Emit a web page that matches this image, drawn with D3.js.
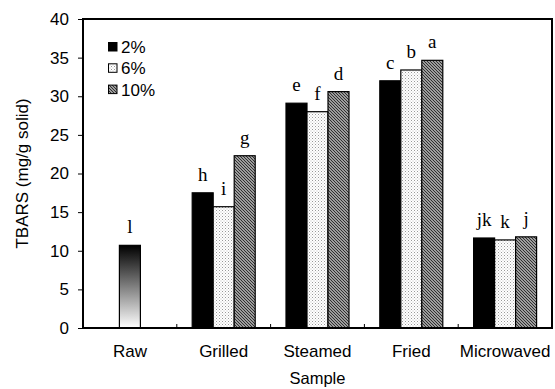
<!DOCTYPE html>
<html><head><meta charset="utf-8">
<script src="https://cdn.jsdelivr.net/npm/d3@7"></script>
<style>body{margin:0;background:#fff}svg{display:block}</style>
</head><body>
<svg id="c" width="555" height="389"></svg>
<script>
const categories = ["Raw","Grilled","Steamed","Fried","Microwaved"];
const seriesNames = ["2%","6%","10%"];
const rawValue = 10.7;
const rawLetter = "l";
const v2  = [null, 17.5, 29.1, 32.0, 11.65];
const v6  = [null, 15.7, 28.0, 33.4, 11.4];
const v10 = [null, 22.3, 30.6, 34.65, 11.8];
const letters2  = [null, "h", "e", "c", "jk"];
const letters6  = [null, "i", "f", "b", "k"];
const letters10 = [null, "g", "d", "a", "j"];
const yTicks = [0,5,10,15,20,25,30,35,40];

const svg = d3.select("#c");
const m = {l:83, r:552, t:19, b:328};
const x = d3.scaleBand().domain(categories).range([m.l, m.r]).paddingInner(0).paddingOuter(0);
const y = d3.scaleLinear().domain([0,40]).range([m.b, m.t]);
const barW = 21;
const sans = "Liberation Sans, Arial, sans-serif";
const serif = "Liberation Serif, Times New Roman, serif";

const defs = svg.append("defs");
const grad = defs.append("linearGradient").attr("id","rawGrad").attr("x1",0).attr("y1",0).attr("x2",0).attr("y2",1);
grad.append("stop").attr("offset","0%").attr("stop-color","#000");
grad.append("stop").attr("offset","100%").attr("stop-color","#fff");

const dots = defs.append("pattern").attr("id","dots").attr("patternUnits","userSpaceOnUse").attr("width",3).attr("height",3);
dots.append("rect").attr("width",3).attr("height",3).attr("fill","#fff");
dots.append("rect").attr("x",0).attr("y",0).attr("width",1).attr("height",1).attr("fill","#999");
dots.append("rect").attr("x",1.5).attr("y",1.5).attr("width",1).attr("height",1).attr("fill","#bbb");

const hatch = defs.append("pattern").attr("id","hatch").attr("patternUnits","userSpaceOnUse").attr("width",3).attr("height",3);
hatch.append("rect").attr("width",3).attr("height",3).attr("fill","#d0d0d0");
hatch.append("path").attr("d","M-1,-1 L4,4 M-1,2 L1,4 M2,-1 L4,1").attr("stroke","#2a2a2a").attr("stroke-width",1.2);

const fills = ["#000","url(#dots)","url(#hatch)"];
const allVals = [v2, v6, v10];
const allLetters = [letters2, letters6, letters10];

const bars = [];
categories.forEach((c,i) => {
  if (i === 0) return;
  for (let s=0; s<3; s++) {
    bars.push({cat:c, s, v:allVals[s][i], l:allLetters[s][i]});
  }
});

const g = svg.append("g");
g.append("rect")
  .attr("x", x("Raw") + x.bandwidth()/2 - barW/2)
  .attr("y", y(rawValue))
  .attr("width", barW)
  .attr("height", y(0) - y(rawValue))
  .attr("fill","url(#rawGrad)").attr("stroke","#000").attr("stroke-width",1.2);
g.append("text")
  .attr("x", x("Raw") + x.bandwidth()/2)
  .attr("y", y(rawValue) - 12)
  .attr("text-anchor","middle")
  .attr("font-family",serif).attr("font-size",19)
  .text(rawLetter);

g.selectAll("rect.bar").data(bars).enter().append("rect").attr("class","bar")
  .attr("x", d => x(d.cat) + x.bandwidth()/2 - 1.5*barW + d.s*barW)
  .attr("y", d => y(d.v))
  .attr("width", barW)
  .attr("height", d => y(0) - y(d.v))
  .attr("fill", d => fills[d.s])
  .attr("stroke","#000").attr("stroke-width",1.2);

g.selectAll("text.lab").data(bars).enter().append("text").attr("class","lab")
  .attr("x", d => x(d.cat) + x.bandwidth()/2 - barW + d.s*barW)
  .attr("y", d => y(d.v) - 12)
  .attr("text-anchor","middle")
  .attr("font-family",serif).attr("font-size",19)
  .text(d => d.l);

svg.append("rect").attr("x",m.l).attr("y",m.t).attr("width",m.r-m.l).attr("height",m.b-m.t)
  .attr("fill","none").attr("stroke","#000").attr("stroke-width",2);

const yAxis = svg.append("g").attr("transform",`translate(${m.l},0)`)
  .call(d3.axisLeft(y).tickValues(yTicks).tickSize(5).tickPadding(9));
yAxis.select(".domain").remove();
yAxis.selectAll("line").attr("stroke","#000");
yAxis.selectAll("text").attr("font-family",sans).attr("font-size",17).attr("fill","#000");

const bounds = categories.slice(1).map(c => x(c));
svg.selectAll("line.xb").data(bounds).enter().append("line").attr("class","xb")
  .attr("x1", d => d).attr("x2", d => d)
  .attr("y1", m.b).attr("y2", m.b - 4).attr("stroke","#000").attr("stroke-width",1);

const xAxis = svg.append("g").attr("transform",`translate(0,${m.b})`)
  .call(d3.axisBottom(x).tickSize(0).tickPadding(17));
xAxis.select(".domain").remove();
xAxis.selectAll("text").attr("font-family",sans).attr("font-size",17).attr("fill","#000");

svg.append("text").attr("x",(m.l+m.r)/2).attr("y",384).attr("text-anchor","middle")
  .attr("font-family",sans).attr("font-size",16.5).text("Sample");
svg.append("text").attr("transform",`translate(28,${(m.t+m.b)/2}) rotate(-90)`).attr("text-anchor","middle")
  .attr("font-family",sans).attr("font-size",17).text("TBARS (mg/g solid)");

const leg = svg.append("g");
seriesNames.forEach((n,i) => {
  const yy = 42 + i*21.3;
  leg.append("rect").attr("x",108.5).attr("y",yy+0.5).attr("width",8.5).attr("height",8.5)
    .attr("fill",fills[i]).attr("stroke","#000").attr("stroke-width",1);
  leg.append("text").attr("x",121).attr("y",yy+11)
    .attr("font-family",sans).attr("font-size",17).text(n);
});
</script>
</body></html>
